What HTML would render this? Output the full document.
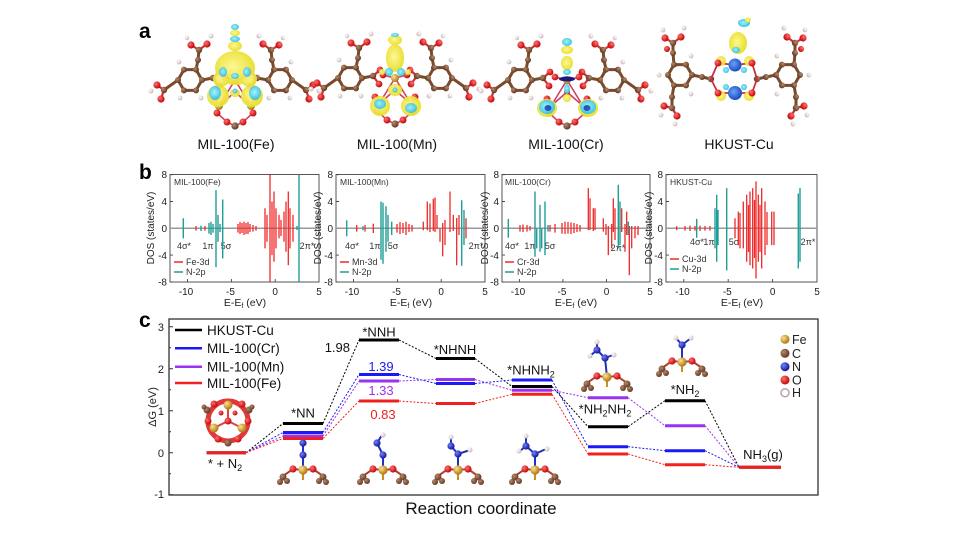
<!DOCTYPE html>
<html><head><meta charset="utf-8"><style>
html,body{margin:0;padding:0;background:#fff;}
svg{display:block;}
text{font-family:"Liberation Sans",Arial,sans-serif;}
</style></head><body>
<svg width="962" height="538" viewBox="0 0 962 538" xmlns="http://www.w3.org/2000/svg">
<defs>
<radialGradient id="gAu" cx="35%" cy="35%" r="70%"><stop offset="0" stop-color="#ffe28a"/><stop offset="1" stop-color="#a87010"/></radialGradient>
<radialGradient id="gC" cx="35%" cy="35%" r="70%"><stop offset="0" stop-color="#b88868"/><stop offset="1" stop-color="#5a3520"/></radialGradient>
<radialGradient id="gO" cx="35%" cy="35%" r="70%"><stop offset="0" stop-color="#ff7070"/><stop offset="1" stop-color="#c00000"/></radialGradient>
<radialGradient id="gN" cx="35%" cy="35%" r="70%"><stop offset="0" stop-color="#7080ff"/><stop offset="1" stop-color="#101090"/></radialGradient>
<radialGradient id="gH" cx="35%" cy="35%" r="70%"><stop offset="0" stop-color="#ffffff"/><stop offset="1" stop-color="#c8b4b4"/></radialGradient>
<radialGradient id="gCu" cx="40%" cy="40%" r="70%"><stop offset="0" stop-color="#6aa0ff"/><stop offset="1" stop-color="#1040b0"/></radialGradient>
<radialGradient id="gY" cx="45%" cy="45%" r="60%"><stop offset="0" stop-color="#fff890"/><stop offset="1" stop-color="#e6dc20"/></radialGradient>
<radialGradient id="gCy" cx="45%" cy="45%" r="60%"><stop offset="0" stop-color="#a0f0ff"/><stop offset="1" stop-color="#30c0d8"/></radialGradient>

<g id="lnk">
 <g stroke="#7a4a2a" stroke-width="3" fill="none" stroke-linecap="round">
  <polygon points="12,0 6,10.4 -6,10.4 -12,0 -6,-10.4 6,-10.4"/>
  <path d="M6,-10.4 L8,-20 L9,-30 M-12,0 L-26,10 M12,0 L23,-2"/>
 </g>
 <g stroke="#d03030" stroke-width="2.2" stroke-linecap="round">
  <path d="M9,-30 L1,-35 M9,-30 L17,-36 M-26,10 L-33,5 M-26,10 L-29,19 M23,-2 L30,-8 M23,-2 L29,6"/>
 </g>
 <g fill="url(#gC)">
  <circle cx="12" cy="0" r="3"/><circle cx="6" cy="10.4" r="3"/><circle cx="-6" cy="10.4" r="3"/><circle cx="-12" cy="0" r="3"/><circle cx="-6" cy="-10.4" r="3"/><circle cx="6" cy="-10.4" r="3"/>
  <circle cx="8" cy="-20" r="3"/><circle cx="9" cy="-30" r="3.2"/><circle cx="-26" cy="10" r="3.2"/><circle cx="23" cy="-2" r="3.2"/>
 </g>
 <g fill="url(#gO)">
  <circle cx="1" cy="-35" r="3.6"/><circle cx="17" cy="-36" r="3.6"/><circle cx="-33" cy="5" r="3.6"/><circle cx="-29" cy="19" r="3.6"/><circle cx="30" cy="-8" r="3.4"/><circle cx="29" cy="6" r="3.4"/>
 </g>
 <g fill="url(#gH)">
  <circle cx="21" cy="-44" r="2.5"/><circle cx="-39" cy="11" r="2.5"/><circle cx="-11" cy="-18" r="2.4"/><circle cx="11" cy="18" r="2.4"/><circle cx="-10" cy="18" r="2.4"/><circle cx="-3" cy="-42" r="2.2"/>
 </g>
</g>

<g id="milc">
 <g stroke="#d04060" stroke-width="1.6" fill="none">
  <path d="M-20,99 L-16,106 L-18,113 L-8,122 L0,126 L8,122 L18,113 L16,106 L20,99 M-16,106 L0,80 L16,106 M-12,77 L0,80 L12,77 M-16,106 L0,92 L16,106"/>
 </g>
 <g fill="url(#gO)">
  <circle cx="-20" cy="99" r="3.5"/><circle cx="20" cy="99" r="3.5"/><circle cx="-18" cy="113" r="3.5"/><circle cx="18" cy="113" r="3.5"/><circle cx="-8" cy="122" r="3.5"/><circle cx="8" cy="122" r="3.5"/><circle cx="-12" cy="77" r="3.4"/><circle cx="12" cy="77" r="3.4"/><circle cx="0" cy="92" r="3"/>
 </g>
 <circle cx="0" cy="126" r="3.6" fill="url(#gC)"/>
 <circle cx="-16" cy="106" r="4" fill="url(#gAu)"/><circle cx="16" cy="106" r="4" fill="url(#gAu)"/><circle cx="0" cy="80" r="4" fill="url(#gAu)"/>
</g>

<g id="lnk2">
 <g stroke="#7a4a2a" stroke-width="3" fill="none" stroke-linecap="round">
  <polygon points="12,0 6,10.4 -6,10.4 -12,0 -6,-10.4 6,-10.4"/>
  <path d="M-6,-10.4 L-7,-22 L-7,-32 M-6,10.4 L-8,22 L-8,33 M12,0 L22,2 L31,4"/>
 </g>
 <g stroke="#d03030" stroke-width="2.2"><path d="M-7,-32 L-15,-37 M-7,-32 L1,-38 M-8,33 L-16,31 M-8,33 L-3,41"/></g>
 <g fill="url(#gC)">
  <circle cx="12" cy="0" r="3"/><circle cx="6" cy="10.4" r="3"/><circle cx="-6" cy="10.4" r="3"/><circle cx="-12" cy="0" r="3"/><circle cx="-6" cy="-10.4" r="3"/><circle cx="6" cy="-10.4" r="3"/>
  <circle cx="-7" cy="-22" r="3"/><circle cx="-7" cy="-32" r="3.2"/><circle cx="-8" cy="22" r="3"/><circle cx="-8" cy="33" r="3.2"/><circle cx="22" cy="2" r="3"/><circle cx="31" cy="4" r="3.2"/>
 </g>
 <g fill="url(#gO)">
  <circle cx="-15" cy="-37" r="3.6"/><circle cx="1" cy="-38" r="3.6"/><circle cx="-16" cy="31" r="3.6"/><circle cx="-3" cy="41" r="3.6"/><circle cx="-13" cy="-26" r="3"/>
 </g>
 <g fill="url(#gH)">
  <circle cx="-17" cy="-45" r="2.4"/><circle cx="4" cy="-47" r="2.4"/><circle cx="-19" cy="40" r="2.4"/><circle cx="-5" cy="49" r="2.4"/><circle cx="11" cy="19" r="2.4"/><circle cx="11" cy="-19" r="2.4"/><circle cx="-21" cy="0" r="2.4"/>
 </g>
</g>

<g id="site">
 <line x1="0" y1="0" x2="0" y2="10" stroke="#c8901e" stroke-width="2"/>
 <path d="M-20,6 L-10,-1 L0,0 L10,-1 L20,6" stroke="#b04030" stroke-width="2" fill="none"/>
 <g fill="url(#gC)"><circle cx="-20" cy="7" r="3.5"/><circle cx="-16" cy="11" r="3"/><circle cx="-23" cy="12" r="3"/><circle cx="20" cy="7" r="3.5"/><circle cx="16" cy="11" r="3"/><circle cx="23" cy="12" r="3"/></g>
 <circle cx="-10" cy="-1" r="3.6" fill="url(#gO)"/><circle cx="10" cy="-1" r="3.6" fill="url(#gO)"/>
 <circle cx="0" cy="0" r="4.6" fill="url(#gAu)"/>
</g>
</defs>

<rect width="962" height="538" fill="#fff"/>

<!-- ============ PANEL A ============ -->
<text x="139" y="38" font-size="21" font-weight="bold" fill="#000">a</text>

<use href="#lnk" transform="translate(190,80)"/>
<use href="#lnk" transform="translate(280,80) scale(-1,1)"/>
<use href="#milc" transform="translate(235,0)"/>
<g opacity="0.95">
 <ellipse cx="235" cy="68" rx="20" ry="17" fill="url(#gY)"/>
 <ellipse cx="221" cy="79" rx="8" ry="8" fill="url(#gY)"/><ellipse cx="249" cy="79" rx="8" ry="8" fill="url(#gY)"/>
 <ellipse cx="235" cy="76" rx="4" ry="3" fill="url(#gCy)"/><ellipse cx="223" cy="72" rx="4" ry="5" fill="url(#gCy)"/><ellipse cx="247" cy="72" rx="4" ry="5" fill="url(#gCy)"/>
 <ellipse cx="235" cy="46" rx="7" ry="5" fill="url(#gY)"/><ellipse cx="235" cy="39" rx="5" ry="3" fill="url(#gCy)"/><ellipse cx="235" cy="33" rx="5" ry="3" fill="url(#gY)"/><ellipse cx="235" cy="27" rx="4" ry="3" fill="url(#gCy)"/>
 <ellipse cx="218" cy="96" rx="11" ry="11" fill="url(#gY)"/><ellipse cx="215" cy="93" rx="6" ry="7" fill="url(#gCy)"/>
 <ellipse cx="252" cy="96" rx="11" ry="11" fill="url(#gY)"/><ellipse cx="255" cy="93" rx="6" ry="7" fill="url(#gCy)"/>
 <ellipse cx="235" cy="93" rx="5" ry="4" fill="url(#gY)"/><circle cx="235" cy="91" r="2.5" fill="url(#gCy)"/>
</g>
<text x="236" y="149" font-size="14" text-anchor="middle" fill="#111">MIL-100(Fe)</text>

<use href="#lnk" transform="translate(350,78)"/>
<use href="#lnk" transform="translate(440,78) scale(-1,1)"/>
<use href="#milc" transform="translate(395,-2)"/>
<g opacity="0.95">
 <ellipse cx="395" cy="40" rx="7" ry="5" fill="url(#gY)"/><ellipse cx="395" cy="35" rx="4" ry="2" fill="url(#gCy)"/>
 <ellipse cx="395" cy="58" rx="9" ry="14" fill="url(#gY)"/>
 <ellipse cx="389" cy="72" rx="4" ry="4" fill="url(#gCy)"/><ellipse cx="401" cy="72" rx="4" ry="4" fill="url(#gCy)"/>
 <ellipse cx="382" cy="72" rx="3" ry="3" fill="url(#gY)"/><ellipse cx="408" cy="72" rx="3" ry="3" fill="url(#gY)"/>
 <ellipse cx="395" cy="90" rx="7" ry="6" fill="url(#gY)"/><circle cx="395" cy="90" r="2.5" fill="url(#gCy)"/>
 <ellipse cx="380" cy="106" rx="10" ry="10" fill="url(#gY)"/><ellipse cx="380" cy="104" rx="6" ry="5" fill="url(#gCy)"/>
 <ellipse cx="411" cy="106" rx="10" ry="10" fill="url(#gY)"/><ellipse cx="411" cy="108" rx="6" ry="5" fill="url(#gCy)"/>
</g>
<text x="397" y="149" font-size="14" text-anchor="middle" fill="#111">MIL-100(Mn)</text>

<use href="#lnk" transform="translate(520,80)"/>
<use href="#lnk" transform="translate(612,80) scale(-1,1)"/>
<use href="#milc" transform="translate(567,0)"/>
<g opacity="0.95">
 <ellipse cx="567" cy="42" rx="5" ry="4" fill="url(#gCy)"/><ellipse cx="567" cy="50" rx="6" ry="4" fill="url(#gY)"/>
 <ellipse cx="567" cy="63" rx="6" ry="7" fill="url(#gY)"/><ellipse cx="567" cy="72" rx="4" ry="3" fill="url(#gCy)"/>
 <ellipse cx="567" cy="79" rx="8" ry="2.5" fill="#101080"/>
 <ellipse cx="567" cy="89" rx="3" ry="5" fill="url(#gCy)"/><ellipse cx="567" cy="98" rx="4" ry="4" fill="url(#gY)"/>
 <ellipse cx="547" cy="108" rx="10" ry="9" fill="url(#gY)"/><ellipse cx="547" cy="107" rx="8" ry="7" fill="url(#gCy)"/><ellipse cx="548" cy="108" rx="3.5" ry="3" fill="#2050c0"/>
 <ellipse cx="588" cy="108" rx="10" ry="9" fill="url(#gY)"/><ellipse cx="588" cy="107" rx="8" ry="7" fill="url(#gCy)"/><ellipse cx="587" cy="108" rx="3.5" ry="3" fill="#2050c0"/>
</g>
<text x="566" y="149" font-size="14" text-anchor="middle" fill="#111">MIL-100(Cr)</text>

<use href="#lnk2" transform="translate(680,75)"/>
<use href="#lnk2" transform="translate(788,75) scale(-1,1)"/>
<g stroke="#c83040" stroke-width="1.8" fill="none"><path d="M711,79 L718,63 L735,65 L752,63 L757,79 L752,93 L735,93 L718,93 Z"/></g>
<g fill="url(#gY)" opacity="0.95"><ellipse cx="721" cy="61" rx="5" ry="5"/><ellipse cx="749" cy="61" rx="5" ry="5"/><ellipse cx="721" cy="96" rx="5" ry="5"/><ellipse cx="749" cy="96" rx="5" ry="5"/></g>
<g fill="url(#gO)"><circle cx="718" cy="63" r="3.5"/><circle cx="752" cy="63" r="3.5"/><circle cx="718" cy="93" r="3.5"/><circle cx="752" cy="93" r="3.5"/></g>
<g fill="url(#gCy)"><circle cx="726" cy="70" r="3"/><circle cx="744" cy="70" r="3"/><circle cx="726" cy="87" r="3"/><circle cx="744" cy="87" r="3"/></g>
<circle cx="735" cy="65" r="6.5" fill="url(#gCu)"/><circle cx="735" cy="93" r="7" fill="url(#gCu)"/>
<ellipse cx="738" cy="43" rx="9" ry="11" fill="url(#gY)"/><ellipse cx="736" cy="50" rx="4" ry="3" fill="url(#gCy)"/>
<ellipse cx="744" cy="23" rx="6" ry="4" fill="url(#gCy)"/><ellipse cx="748" cy="20" rx="3" ry="2.5" fill="url(#gY)"/>
<text x="739" y="149" font-size="14" text-anchor="middle" fill="#111">HKUST-Cu</text>

<!-- ============ PANEL B ============ -->
<text x="139" y="179" font-size="21" font-weight="bold" fill="#000">b</text>

<g font-size="10" fill="#222">
<g stroke="#444" stroke-width="0.9" fill="none">
 <rect x="170" y="174.5" width="149" height="107.5"/>
 <rect x="336" y="174.5" width="149" height="107.5"/>
 <rect x="502" y="174.5" width="148" height="107.5"/>
 <rect x="666" y="174.5" width="151" height="107.5"/>
 <path d="M170,174.7h3M170,201.5h3M170,228.3h3M170,255.1h3M170,281.9h3
          M336,174.7h3M336,201.5h3M336,228.3h3M336,255.1h3M336,281.9h3
          M502,174.7h3M502,201.5h3M502,228.3h3M502,255.1h3M502,281.9h3
          M666,174.7h3M666,201.5h3M666,228.3h3M666,255.1h3M666,281.9h3"/>
 <path d="M187.5,282v-3M231.4,282v-3M275.2,282v-3
          M353.5,282v-3M397.4,282v-3M441.2,282v-3
          M519.4,282v-3M562.9,282v-3M606.5,282v-3
          M683.8,282v-3M728.2,282v-3M772.6,282v-3"/>
</g>
<g stroke="#9a9a9a" stroke-width="1.5">
 <path d="M170,228.3H319M336,228.3H485M502,228.3H650M666,228.3H817"/>
</g>

<g text-anchor="end">
 <text x="167" y="178">8</text><text x="167" y="205">4</text><text x="167" y="232">0</text><text x="167" y="259">-4</text><text x="167" y="285.5">-8</text>
 <text x="333" y="178">8</text><text x="333" y="205">4</text><text x="333" y="232">0</text><text x="333" y="259">-4</text><text x="333" y="285.5">-8</text>
 <text x="499" y="178">8</text><text x="499" y="205">4</text><text x="499" y="232">0</text><text x="499" y="259">-4</text><text x="499" y="285.5">-8</text>
 <text x="663" y="178">8</text><text x="663" y="205">4</text><text x="663" y="232">0</text><text x="663" y="259">-4</text><text x="663" y="285.5">-8</text>
</g>
<g text-anchor="middle">
 <text x="186" y="295">-10</text><text x="230.5" y="295">-5</text><text x="275.2" y="295">0</text><text x="319" y="295">5</text>
 <text x="352" y="295">-10</text><text x="396.5" y="295">-5</text><text x="441.2" y="295">0</text><text x="485" y="295">5</text>
 <text x="518" y="295">-10</text><text x="562" y="295">-5</text><text x="606.5" y="295">0</text><text x="650" y="295">5</text>
 <text x="682.5" y="295">-10</text><text x="727.3" y="295">-5</text><text x="772.6" y="295">0</text><text x="817" y="295">5</text>
</g>
<g text-anchor="middle" font-size="10.5">
 <text x="245" y="306">E-E<tspan font-size="7" dy="2">f</tspan><tspan dy="-2"> (eV)</tspan></text>
 <text x="411" y="306">E-E<tspan font-size="7" dy="2">f</tspan><tspan dy="-2"> (eV)</tspan></text>
 <text x="576" y="306">E-E<tspan font-size="7" dy="2">f</tspan><tspan dy="-2"> (eV)</tspan></text>
 <text x="742" y="306">E-E<tspan font-size="7" dy="2">f</tspan><tspan dy="-2"> (eV)</tspan></text>
</g>
<g text-anchor="middle" font-size="10">
 <text transform="translate(154,228) rotate(-90)">DOS (states/eV)</text>
 <text transform="translate(321,228) rotate(-90)">DOS (states/eV)</text>
 <text transform="translate(488,228) rotate(-90)">DOS (states/eV)</text>
 <text transform="translate(652,228) rotate(-90)">DOS (states/eV)</text>
</g>
<g font-size="8.5" fill="#333">
 <text x="174" y="185">MIL-100(Fe)</text>
 <text x="340" y="185">MIL-100(Mn)</text>
 <text x="505" y="185">MIL-100(Cr)</text>
 <text x="670" y="185">HKUST-Cu</text>
</g>
<g font-size="9" fill="#333" text-anchor="middle">
 <text x="184" y="249">4σ*</text><text x="208" y="249">1π</text><text x="226" y="249">5σ</text><text x="307" y="249">2π*</text>
 <text x="352" y="249">4σ*</text><text x="375" y="249">1π</text><text x="393" y="249">5σ</text><text x="476" y="249">2π*</text>
 <text x="512" y="249">4σ*</text><text x="530" y="249">1π</text><text x="550" y="249">5σ</text><text x="618" y="251">2π*</text>
 <text x="697" y="245">4σ*</text><text x="709" y="245">1π</text><text x="734" y="245">5σ</text><text x="808" y="245">2π*</text>
</g>

<path stroke="#f02828" stroke-width="1.3" fill="none" d="M196 226V230.6M205 226V230.6M238 224V232.6M240 222V234M242 223V233M244 221.6V235M246 223V234M248 222V234M250 224V232M253 225V231.6M256 226V230.6M265 208.2V248.4M267 214.9V241.7M270 174.7V281.9M272 201.5V255.1M274 191.5V261.8M276 208.2V248.4M279 214.9V238.4M281 220V236M284 211.6V241.7M286 201.5V251.8M288.3 191.5V265.2M290 208.2V248.4M293 214.9V241.7"/>
<path stroke="#1e9e96" stroke-width="1.4" fill="none" d="M183.3 218.3V238.4M201 225.6V231M209 223V233.6M211 221.6V235M213 224V232.6M216 190.1V267.2M218 214.9V241.7M220 224V232M222.7 199.5V258.5M297 226V230M299 174.7V281.9"/>
<path stroke="#f02828" stroke-width="1.3" fill="none" d="M356.7 225V231.6M365 225V231.6M373.3 223.6V233M397 224V232.6M400 222V234M403 223V233M406 221.6V235M409 224V232M412 225V231.6M423.3 221.6V230.3M427.3 201.5V230.3M430 203.5V232M433.3 198.8V231M435 197.5V232M437 215V229M440 228.3V241.7M442.7 223V256.4M445 220V245M450 191.5V232M453.3 214.9V231M456.7 218V265.2M459 215V235M466 218.3V238.4"/>
<path stroke="#1e9e96" stroke-width="1.4" fill="none" d="M346.7 220.3V236.3M363 226.3V230.3M381 201.5V259.8M383 202.8V263.8M386 206.2V251.8M388 214.9V241.7M391.7 221.6V235M461.7 200.2V265.8M464 210V245"/>
<path stroke="#f02828" stroke-width="1.3" fill="none" d="M520 225V231.6M523 224.5V232M527 225V231.6M530 226V230.6M550 225V231.6M555 224V232.6M562 223V233.6M565 221.6V234M568 222V233.6M571 222.5V234M574 223V233M577 224V232M580 225V231.6M588.3 188.1V230M590 198.2V230M593.3 208.2V231M595 208.2V230M603.3 218.3V231.6M606 224V235M608.3 226V255.1M611.7 224V248.4M613.3 198.2V232M615 208.2V240M621.7 208.2V232M625 224V251.8M626.7 211.6V235M629.3 226V275.2M631.7 226V248.4M635 226V238.4M638 226V235"/>
<path stroke="#1e9e96" stroke-width="1.4" fill="none" d="M508.3 218.9V237.7M535 191.5V256.7M536.7 228.3V248.4M540 204.9V251.8M541.7 228.3V248.4M545 201.5V255.1M548 225V231.6M618.3 184.7V248.4M620 201.5V245.1M628.3 221.6V235"/>
<path stroke="#f02828" stroke-width="1.3" fill="none" d="M676.7 226.3V230.3M685 226V230.6M690 225.6V231M695 226V230.6M700 225.6V231M705 226V230.6M710 226V230.6M735 218.3V238.4M738.3 211.6V245.1M740 213V248.4M743.3 201.5V248.4M746.7 194.8V261.8M748.5 205V252M750 191.5V265.2M752.7 188.1V268.5M754.5 200V258M756 181.4V278.5M758.3 194.8V261.8M760 205V252M761.7 188.1V268.5M765 201.5V255.1M767 212V245M771.7 211.6V245.1M774 211.6V245.1"/>
<path stroke="#1e9e96" stroke-width="1.4" fill="none" d="M696.7 218.9V237.7M715 208.2V248.4M716.7 194.8V261.8M718 210V245M726.7 188.1V270.5M798.3 193.5V268.5M800 188.1V261.8"/>

<g stroke-width="1.5">
 <path stroke="#f02828" d="M174,262h9M340,262h9M505,262h9M670,259h9"/>
 <path stroke="#1e9e96" d="M174,272h9M340,272h9M505,272h9M670,269h9"/>
</g>
<g font-size="9" fill="#333">
 <text x="186" y="265">Fe-3d</text><text x="186" y="275">N-2p</text>
 <text x="352" y="265">Mn-3d</text><text x="352" y="275">N-2p</text>
 <text x="517" y="265">Cr-3d</text><text x="517" y="275">N-2p</text>
 <text x="682" y="262">Cu-3d</text><text x="682" y="272">N-2p</text>
</g>
</g>

<!-- ============ PANEL C ============ -->
<text x="139" y="327" font-size="21" font-weight="bold" fill="#000">c</text>
<rect x="169" y="319" width="649" height="176" fill="none" stroke="#333" stroke-width="1.3"/>
<g stroke="#333" stroke-width="1"><path d="M169,326.7h4M169,368.7h4M169,410.7h4M169,452.7h4M169,494.7h4M169,347.7h2M169,389.7h2M169,431.7h2M169,473.7h2"/></g>
<g font-size="11" fill="#222" text-anchor="end">
 <text x="164" y="331">3</text><text x="164" y="373">2</text><text x="164" y="415">1</text><text x="164" y="457">0</text><text x="164" y="498">-1</text>
</g>
<text transform="translate(156,407) rotate(-90)" font-size="11" text-anchor="middle" fill="#222">ΔG (eV)</text>
<text x="481" y="514" font-size="17" text-anchor="middle" fill="#111">Reaction coordinate</text>

<g stroke-width="2.5">
 <path stroke="#000" d="M175,330h27"/><path stroke="#1a1af5" d="M175,348.3h27"/><path stroke="#9a33f0" d="M175,366.7h27"/><path stroke="#f02020" d="M175,383h27"/>
</g>
<g font-size="13.5" fill="#111">
 <text x="207" y="335">HKUST-Cu</text><text x="207" y="353">MIL-100(Cr)</text><text x="207" y="371.5">MIL-100(Mn)</text><text x="207" y="388">MIL-100(Fe)</text>
</g>

<g fill="none" stroke-width="1" stroke-dasharray="2,1.6">
 <path stroke="#000" d="M246,452.7L283,423.5M323,423.5L359,340M399,340L436,358.5M475,358.5L512,386.5M552,386.5L588,426.7M628,426.7L665,400.7M705,400.7L739,467.3"/>
 <path stroke="#1a1af5" d="M246,452.7L283,432.5M323,432.5L359,374.5M399,374.5L436,383.5M475,383.5L512,380M552,380L588,446.7M628,446.7L665,450.7M705,450.7L739,467.3"/>
 <path stroke="#9a33f0" d="M246,452.7L283,436M323,436L359,381M399,381L436,379.5M475,379.5L512,390.3M552,390.3L588,397.7M628,397.7L665,425.7M705,425.7L739,467.3"/>
 <path stroke="#f02020" d="M246,452.7L283,438.5M323,438.5L359,401M399,401L436,403.5M475,403.5L512,394.3M552,394.3L588,454M628,454L665,464.7M705,464.7L739,467.3"/>
</g>
<g stroke-width="3">
 <path stroke="#000" d="M206.7,452.7H246M283,423.5H323M359,340H399M436,358.5H475M512,386.5H552M588,426.7H628M665,400.7H705M739,467.3H781"/>
 <path stroke="#1a1af5" d="M283,432.5H323M359,374.5H399M436,383.5H475M512,380H552M588,446.7H628M665,450.7H705"/>
 <path stroke="#9a33f0" d="M283,436H323M359,381H399M436,379.5H475M512,390.3H552M588,397.7H628M665,425.7H705"/>
 <path stroke="#f02020" d="M206.7,452.7H246M283,438.5H323M359,401H399M436,403.5H475M512,394.3H552M588,454H628M665,464.7H705M739,467.3H781"/>
</g>

<g font-size="13" fill="#111" text-anchor="middle">
 <text x="303" y="417.5">*NN</text>
 <text x="379" y="336.5">*NNH</text>
 <text x="455" y="354">*NHNH</text>
 <text x="531" y="374.5">*NHNH<tspan font-size="9" dy="3">2</tspan></text>
 <text x="605" y="413.5">*NH<tspan font-size="9" dy="3">2</tspan><tspan dy="-3">NH</tspan><tspan font-size="9" dy="3">2</tspan></text>
 <text x="685" y="394">*NH<tspan font-size="9" dy="3">2</tspan></text>
 <text x="763" y="459">NH<tspan font-size="9" dy="3">3</tspan><tspan dy="-3">(g)</tspan></text>
 <text x="225" y="468">* + N<tspan font-size="9" dy="3">2</tspan></text>
 <text x="350" y="352" text-anchor="end">1.98</text>
 <text x="381" y="371" fill="#1a1af5">1.39</text>
 <text x="381" y="395" fill="#9a33f0">1.33</text>
 <text x="383" y="419" fill="#f02020">0.83</text>
</g>

<circle cx="785" cy="339.3" r="4.5" fill="url(#gAu)"/>
<circle cx="785" cy="353.3" r="4.5" fill="url(#gC)"/>
<circle cx="785" cy="366.7" r="4.5" fill="url(#gN)"/>
<circle cx="785" cy="380" r="4.5" fill="url(#gO)"/>
<circle cx="785" cy="392.7" r="4" fill="#fff" stroke="#b8a0a8" stroke-width="1.5"/>
<g font-size="12.5" fill="#222">
 <text x="792" y="344">Fe</text><text x="792" y="358">C</text><text x="792" y="371">N</text><text x="792" y="384.5">O</text><text x="792" y="397">H</text>
</g>

<g>
 <circle cx="228" cy="421" r="20" fill="none" stroke="#e03838" stroke-width="5"/>
 <path d="M228,405 L228,421 L214,428 M228,421 L242,428" stroke="#e04040" stroke-width="2" fill="none"/>
 <g fill="url(#gO)">
  <circle cx="214" cy="404" r="3.5"/><circle cx="242" cy="404" r="3.5"/><circle cx="208" cy="421" r="3.5"/><circle cx="248" cy="421" r="3.5"/><circle cx="218" cy="439" r="3.5"/><circle cx="238" cy="439" r="3.5"/><circle cx="228" cy="421" r="3.5"/><circle cx="221" cy="413" r="2.5"/><circle cx="235" cy="413" r="2.5"/>
 </g>
 <g fill="url(#gC)"><circle cx="207" cy="410" r="3.5"/><circle cx="249" cy="410" r="3.5"/><circle cx="228" cy="443" r="3.5"/><circle cx="204" cy="407" r="2.5"/><circle cx="252" cy="407" r="2.5"/></g>
 <g fill="url(#gAu)"><circle cx="228" cy="405" r="4.5"/><circle cx="214" cy="428" r="4.5"/><circle cx="242" cy="428" r="4.5"/></g>
</g>

<line x1="303" y1="470" x2="303" y2="443" stroke="#2030c0" stroke-width="2"/>
<use href="#site" transform="translate(303,470)"/>
<circle cx="303" cy="455" r="3.6" fill="url(#gN)"/><circle cx="303" cy="443" r="3.6" fill="url(#gN)"/>
<path d="M383,470 L383,455 L377,443 L382,435" stroke="#2030c0" stroke-width="2" fill="none"/>
<use href="#site" transform="translate(383,470)"/>
<circle cx="383" cy="455" r="3.6" fill="url(#gN)"/><circle cx="377" cy="443" r="3.6" fill="url(#gN)"/><circle cx="383" cy="435" r="2.5" fill="url(#gH)"/>
<path d="M458,470 L458,454 L451,446 L451,437 M458,454 L470,450" stroke="#2030c0" stroke-width="2" fill="none"/>
<use href="#site" transform="translate(458,470)"/>
<circle cx="458" cy="454" r="3.6" fill="url(#gN)"/><circle cx="451" cy="446" r="3.6" fill="url(#gN)"/><circle cx="451" cy="437" r="2.5" fill="url(#gH)"/><circle cx="470" cy="450" r="2.5" fill="url(#gH)"/>
<path d="M535,470 L535,454 L526,446 L520,451 M526,446 L526,437 M535,454 L546,449" stroke="#2030c0" stroke-width="2" fill="none"/>
<use href="#site" transform="translate(535,470)"/>
<circle cx="535" cy="454" r="3.6" fill="url(#gN)"/><circle cx="526" cy="446" r="3.6" fill="url(#gN)"/><circle cx="519" cy="451" r="2.5" fill="url(#gH)"/><circle cx="526" cy="436" r="2.5" fill="url(#gH)"/><circle cx="547" cy="449" r="2.5" fill="url(#gH)"/>
<path d="M607,377 L605,358 L597,350 L590,356 M597,350 L597,342 M605,358 L613,355" stroke="#2030c0" stroke-width="2" fill="none"/>
<use href="#site" transform="translate(607,377)"/>
<circle cx="605" cy="358" r="3.6" fill="url(#gN)"/><circle cx="597" cy="350" r="3.6" fill="url(#gN)"/><circle cx="590" cy="356" r="2.5" fill="url(#gH)"/><circle cx="597" cy="342" r="2.5" fill="url(#gH)"/><circle cx="614" cy="355" r="2.5" fill="url(#gH)"/>
<path d="M682,362 L682,345 L676,338 M682,345 L691,338" stroke="#2030c0" stroke-width="2" fill="none"/>
<use href="#site" transform="translate(682,362)"/>
<circle cx="682" cy="345" r="3.6" fill="url(#gN)"/><circle cx="676" cy="338" r="2.5" fill="url(#gH)"/><circle cx="691" cy="338" r="2.5" fill="url(#gH)"/>
</svg>
</body></html>
